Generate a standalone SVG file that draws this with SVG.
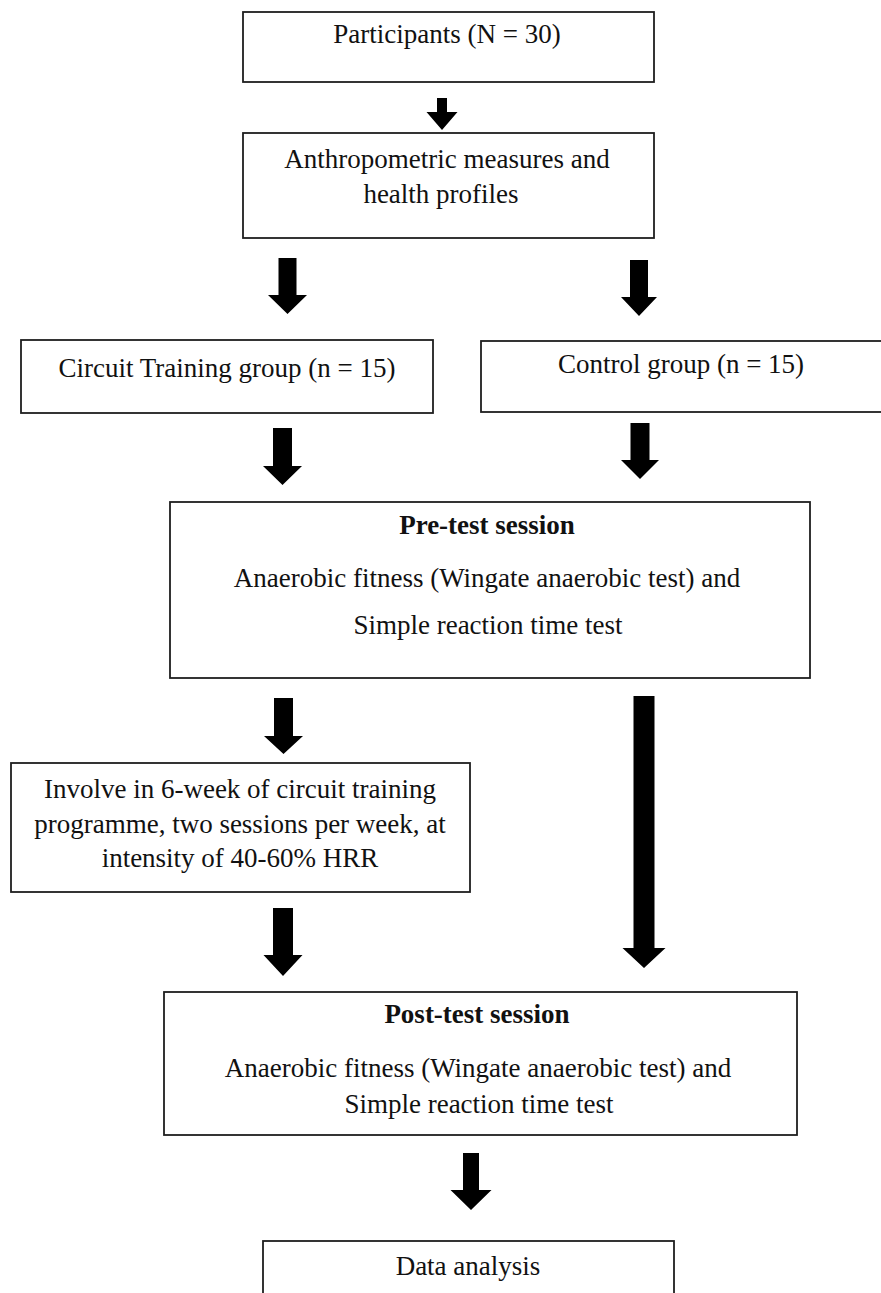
<svg xmlns="http://www.w3.org/2000/svg" width="881" height="1293" viewBox="0 0 881 1293">
<style>
.box{fill:#ffffff;stroke:#1e1e1e;stroke-width:1.8}
.t{font-family:"Liberation Serif","Times New Roman",serif;font-size:27px;fill:#111;text-anchor:middle}
.b{font-weight:bold}
.arr{fill:#000}
</style>
<rect x="0" y="0" width="881" height="1293" fill="#ffffff"/>
<g id="connectors">
<polygon class="arr" points="437,98 447,98 447,112 457.5,112 442,130 426.5,112 437,112"/>
<polygon class="arr" points="278.5,258 296.5,258 296.5,295 307,295 287.5,314 268,295 278.5,295"/>
<polygon class="arr" points="630,260 648,260 648,297 657,297 639,316 621,297 630,297"/>
<polygon class="arr" points="273,428 292,428 292,466 302,466 282.5,485 263,466 273,466"/>
<polygon class="arr" points="630.5,423 649.5,423 649.5,460 659,460 640,479 621,460 630.5,460"/>
<polygon class="arr" points="274,698 293,698 293,736 303,736 283.5,754 264,736 274,736"/>
<polygon class="arr" points="633.5,696 654.5,696 654.5,948 665.5,948 644,968 622.5,948 633.5,948"/>
<polygon class="arr" points="273,908 293,908 293,955 302.5,955 283,976 263.5,955 273,955"/>
<polygon class="arr" points="463,1153 479,1153 479,1190 491.5,1190 471,1210 450.5,1190 463,1190"/>
</g>
<g id="participants">
<rect class="box" x="243" y="12" width="411" height="70"/>
<text class="t" x="447" y="43">Participants (N = 30)</text>
</g>
<g id="anthropometric">
<rect class="box" x="243" y="133" width="411" height="105"/>
<text class="t" x="447" y="168">Anthropometric measures and</text>
<text class="t" x="441" y="203">health profiles</text>
</g>
<g id="circuit-group">
<rect class="box" x="21" y="340" width="412" height="73"/>
<text class="t" x="227" y="377">Circuit Training group (n = 15)</text>
</g>
<g id="control-group">
<rect class="box" x="481" y="341" width="401" height="71"/>
<text class="t" x="681" y="373">Control group (n = 15)</text>
</g>
<g id="pre-test">
<rect class="box" x="170" y="502" width="640" height="176"/>
<text class="t b" x="487" y="534">Pre-test session</text>
<text class="t" x="487" y="587">Anaerobic fitness (Wingate anaerobic test) and</text>
<text class="t" x="488" y="634">Simple reaction time test</text>
</g>
<g id="training">
<rect class="box" x="11" y="763" width="459" height="129"/>
<text class="t" x="240" y="798">Involve in 6-week of circuit training</text>
<text class="t" x="240" y="833">programme, two sessions per week, at</text>
<text class="t" x="240" y="867">intensity of 40-60% HRR</text>
</g>
<g id="post-test">
<rect class="box" x="164" y="992" width="633" height="143"/>
<text class="t b" x="477" y="1023">Post-test session</text>
<text class="t" x="478" y="1077">Anaerobic fitness (Wingate anaerobic test) and</text>
<text class="t" x="479" y="1113">Simple reaction time test</text>
</g>
<g id="data-analysis">
<rect class="box" x="263" y="1241" width="411" height="70"/>
<text class="t" x="468" y="1275">Data analysis</text>
</g>
</svg>
